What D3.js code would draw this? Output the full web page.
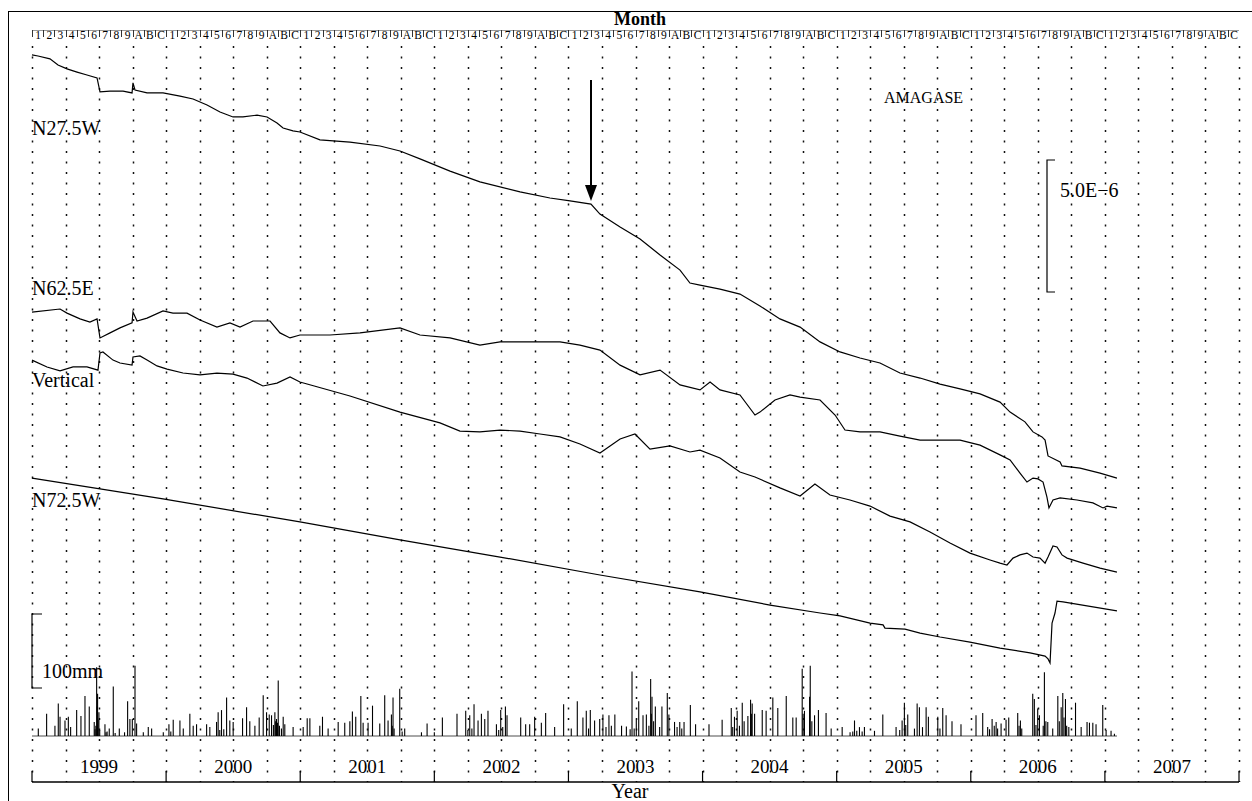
<!DOCTYPE html>
<html><head><meta charset="utf-8">
<script src="https://cdn.jsdelivr.net/npm/d3@7"></script>
<style>body{margin:0;background:#fff}svg{display:block}text{font-family:"Liberation Serif","Times New Roman",serif;fill:#000}</style>
</head><body><svg id="c" width="1252" height="801"></svg>
<script>
// ---- data (time = years since 1999-01-01, strain in units of 1e-7) ----
const years = ["1999","2000","2001","2002","2003","2004","2005","2006","2007"];
const monthLabels = ["1","2","3","4","5","6","7","8","9","A","B","C"];
const seriesNames = ["N27.5W","N62.5E","Vertical","N72.5W"];

const n275W = [[0,279.2],[0.045,278.8],[0.134,277.7],[0.194,275.4],[0.261,273.9],[0.336,272.7],[0.41,271.6],[0.485,270.5],[0.507,265.2],[0.582,265.5],[0.679,265.5],[0.746,264.8],[0.753,268.6],[0.768,265.9],[0.858,264.8],[0.977,264.8],[1.104,263.6],[1.201,262.5],[1.305,260.2],[1.402,257.6],[1.499,255.7],[1.573,255.7],[1.678,256.4],[1.753,255.7],[1.827,253.4],[1.872,251.5],[1.946,250.4],[1.998,250.0],[2.147,247.0],[2.371,246.2],[2.595,244.7],[2.744,242.8],[2.893,239.8],[3.117,235.2],[3.34,231.1],[3.639,227.3],[3.862,225.0],[4.012,223.9],[4.168,222.7],[4.235,218.9],[4.385,214.0],[4.534,209.5],[4.683,203.4],[4.832,197.7],[4.906,192.8],[4.981,192.0],[5.13,190.5],[5.279,188.6],[5.428,184.1],[5.577,179.2],[5.727,176.1],[5.876,170.5],[6.025,166.7],[6.174,164.4],[6.323,162.5],[6.472,158.7],[6.622,156.8],[6.771,154.5],[6.92,152.7],[7.069,150.8],[7.218,147.7],[7.293,143.9],[7.404,140.2],[7.464,136.4],[7.531,134.5],[7.554,133.3],[7.576,127.3],[7.666,125.0],[7.68,123.5],[7.815,122.7],[7.964,120.8],[8.09,118.9]];

const n625E = [[0,181.8],[0.209,182.95],[0.261,181.4],[0.358,179.2],[0.432,178.0],[0.485,179.2],[0.507,172.0],[0.582,173.9],[0.656,175.8],[0.746,177.7],[0.753,181.8],[0.783,178.4],[0.858,179.5],[0.977,182.2],[1.051,181.4],[1.156,181.4],[1.253,178.8],[1.379,176.1],[1.476,177.7],[1.551,176.1],[1.648,178.4],[1.775,178.4],[1.849,173.9],[1.924,172.0],[1.998,173.1],[2.222,173.1],[2.446,173.9],[2.744,175.8],[2.893,173.1],[3.117,172.0],[3.34,169.3],[3.49,170.5],[3.713,170.5],[3.937,170.5],[4.086,169.3],[4.235,167.4],[4.385,161.7],[4.534,158.0],[4.683,159.8],[4.832,154.2],[4.981,152.3],[5.056,155.3],[5.13,152.3],[5.279,150.4],[5.391,142.8],[5.428,143.9],[5.54,148.5],[5.652,150.4],[5.727,149.6],[5.876,148.5],[5.988,142.8],[6.062,137.1],[6.174,136.4],[6.323,136.4],[6.472,134.8],[6.622,133.3],[6.771,133.3],[6.92,133.3],[7.069,131.4],[7.218,127.7],[7.293,125.8],[7.367,120.8],[7.419,117.4],[7.464,118.9],[7.501,118.6],[7.539,117.4],[7.568,111.7],[7.583,107.6],[7.613,110.6],[7.666,111.4],[7.792,110.6],[7.911,109.5],[7.986,107.6],[8.016,108.3],[8.09,107.6]];

const vertical = [[0,163.6],[0.112,161.0],[0.209,159.5],[0.306,161.0],[0.41,161.0],[0.492,159.8],[0.507,166.3],[0.529,166.7],[0.604,163.6],[0.656,162.5],[0.746,161.7],[0.753,164.8],[0.805,165.2],[0.858,163.6],[0.932,161.4],[1.007,160.2],[1.126,158.7],[1.253,158.0],[1.379,158.7],[1.499,158.3],[1.603,156.8],[1.722,153.8],[1.827,154.9],[1.924,157.2],[1.998,155.3],[2.371,150.0],[2.744,143.9],[3.042,139.8],[3.191,136.7],[3.34,136.4],[3.49,137.1],[3.639,136.7],[3.788,135.6],[3.937,134.5],[4.086,131.8],[4.235,128.4],[4.385,133.7],[4.496,135.6],[4.608,129.9],[4.757,131.1],[4.906,128.8],[4.981,129.5],[5.13,126.5],[5.279,121.2],[5.391,119.3],[5.577,115.2],[5.727,112.1],[5.838,116.7],[5.95,112.5],[6.099,110.6],[6.249,108.3],[6.398,104.5],[6.547,102.3],[6.696,98.5],[6.845,94.3],[6.994,90.5],[7.144,87.9],[7.218,86.7],[7.27,86.0],[7.315,88.6],[7.367,89.8],[7.419,90.5],[7.464,89.0],[7.516,88.6],[7.554,86.7],[7.576,89.0],[7.613,93.2],[7.643,92.8],[7.68,89.8],[7.718,88.6],[7.837,86.7],[7.964,84.8],[8.09,83.3]];

const n725W = [[0,118.9],[0.507,114.8],[0.977,111.0],[1.998,102.3],[2.744,95.5],[3.49,89.0],[4.235,82.2],[4.981,75.8],[5.503,70.8],[5.876,67.8],[6.025,66.7],[6.249,64.0],[6.346,63.3],[6.36,62.1],[6.51,61.7],[6.622,60.2],[6.771,58.7],[6.994,56.8],[7.218,54.5],[7.442,52.7],[7.554,51.5],[7.576,50.4],[7.591,48.9],[7.606,64.0],[7.628,67.8],[7.643,72.3],[7.688,72.0],[8.09,68.6]];

// daily rainfall (mm): [years since 1999, mm]
const rain = [[0.047,10],[0.109,30],[0.171,14],[0.196,44],[0.209,26],[0.246,21],[0.271,26],[0.288,12],[0.333,35],[0.365,27],[0.395,54],[0.427,40],[0.464,19],[0.470,9],[0.476,14],[0.482,93],[0.486,40],[0.489,57],[0.493,22],[0.499,32],[0.505,8],[0.544,16],[0.552,5],[0.560,6],[0.576,10],[0.606,67],[0.620,4],[0.651,10],[0.690,5],[0.713,47],[0.730,23],[0.748,23],[0.768,95],[0.780,17],[0.830,5],[0.867,12],[0.892,10],[0.979,5],[1.021,16],[1.035,6],[1.053,22],[1.103,21],[1.128,10],[1.177,30],[1.202,14],[1.227,16],[1.302,16],[1.326,12],[1.376,19],[1.388,32],[1.400,8],[1.413,35],[1.430,9],[1.451,52],[1.475,21],[1.500,19],[1.570,24],[1.600,39],[1.624,20],[1.662,14],[1.694,25],[1.724,55],[1.749,32],[1.769,29],[1.786,28],[1.800,15],[1.811,32],[1.817,20],[1.823,23],[1.830,18],[1.836,75],[1.845,14],[1.860,10],[1.873,26],[1.885,16],[1.947,12],[2.022,12],[2.052,24],[2.072,24],[2.146,14],[2.166,26],[2.208,10],[2.283,19],[2.332,18],[2.370,20],[2.389,33],[2.414,26],[2.452,54],[2.469,18],[2.506,18],[2.539,41],[2.593,17],[2.630,55],[2.655,21],[2.680,29],[2.686,14],[2.692,52],[2.700,10],[2.742,64],[2.760,6],[2.779,10],
[2.904,5],[2.946,17],[3.000,5],[3.060,25],[3.169,30],[3.234,34],[3.250,8],[3.264,28],[3.280,10],[3.296,43],[3.326,21],[3.351,30],[3.376,23],[3.400,34],[3.463,16],[3.480,8],[3.495,35],[3.510,12],[3.530,40],[3.542,28],[3.644,25],[3.681,16],[3.711,16],[3.748,26],[3.798,18],[3.830,31],[3.897,12],[3.964,43],[4.021,10],[4.066,47],[4.108,25],[4.133,34],[4.150,10],[4.163,35],[4.195,21],[4.233,23],[4.257,29],[4.280,12],[4.302,28],[4.320,14],[4.346,29],[4.396,14],[4.432,13],[4.460,9],[4.474,87],[4.490,10],[4.506,22],[4.524,47],[4.556,28],[4.581,29],[4.600,14],[4.613,77],[4.618,30],[4.623,53],[4.635,20],[4.648,40],[4.680,12],[4.697,40],[4.737,58],[4.749,29],[4.791,19],[4.810,12],[4.830,19],[4.845,10],[4.862,19],[4.909,42],[4.948,16],[5.048,16],[5.146,22],[5.214,38],[5.225,12],[5.238,26],[5.258,34],[5.275,14],[5.296,45],[5.310,20],[5.338,27],[5.358,49],[5.364,30],[5.370,44],[5.388,30],[5.445,35],[5.474,34],[5.524,52],[5.561,38],[5.624,54],[5.673,25],[5.698,25],[5.743,91],[5.750,30],[5.760,34],[5.798,53],[5.803,95],[5.815,20],[5.835,28],[5.864,35],[5.921,31],[5.959,10],
[6.041,12],[6.100,5],[6.120,6],[6.133,21],[6.150,7],[6.170,12],[6.190,6],[6.207,12],[6.282,7],[6.344,29],[6.443,12],[6.470,8],[6.488,21],[6.505,45],[6.515,15],[6.530,29],[6.580,10],[6.600,44],[6.617,39],[6.640,12],[6.667,39],[6.684,26],[6.754,26],[6.770,10],[6.791,38],[6.816,28],[6.860,20],[6.927,16],[7.039,28],[7.089,31],[7.126,12],[7.140,9],[7.159,23],[7.175,14],[7.189,19],[7.200,10],[7.226,17],[7.263,22],[7.283,25],[7.350,31],[7.360,14],[7.370,21],[7.380,10],[7.462,57],[7.474,50],[7.486,15],[7.499,37],[7.512,28],[7.540,14],[7.549,86],[7.560,20],[7.574,19],[7.611,10],[7.649,54],[7.660,20],[7.674,39],[7.686,58],[7.695,25],[7.706,50],[7.715,14],[7.731,12],[7.781,45],[7.823,12],[7.867,19],[7.885,18],[7.910,18],[7.934,16],[7.984,42],[8.009,8],[8.046,7],[8.071,3]];
const rainEnd = 8.09;
const scaleStrain = 50;   // 5.0E-6 in units of 1e-7
const scaleRain = 100;    // mm

// ---- drawing ----
const svg = d3.select("#c");
const x = d3.scaleLinear().domain([0, 9]).range([32, 1239]);
const y = d3.scaleLinear().domain([0, 300]).range([792, 0]);
const yr = d3.scaleLinear().domain([0, 100]).range([736, 662]);

// frame
svg.append("line").attr("x1",8.5).attr("x2",8.5).attr("y1",11).attr("y2",801).attr("stroke","#000").attr("stroke-width",1);
svg.append("line").attr("x1",8).attr("x2",1252).attr("y1",11.5).attr("y2",11.5).attr("stroke","#000").attr("stroke-width",1);

// month row
const months = d3.range(108);
svg.append("line").attr("x1",x(0)).attr("x2",x(9)).attr("y1",30.5).attr("y2",30.5).attr("stroke","#999");
svg.selectAll(".msep").data(months).join("line").attr("class","msep")
  .attr("x1",d=>Math.round(x(d/12))+0.5).attr("x2",d=>Math.round(x(d/12))+0.5)
  .attr("y1",30).attr("y2",37).attr("stroke","#333");
svg.selectAll(".mlab").data(months).join("text").attr("class","mlab")
  .attr("x",d=>x((d+0.55)/12)).attr("y",39).attr("text-anchor","middle")
  .style("font-size","11.5px").text(d=>monthLabels[d%12]);
svg.append("text").attr("x",640).attr("y",25).attr("text-anchor","middle")
  .style("font-size","18px").style("font-weight","bold").text("Month");

// quarterly dotted grid
const quarters = d3.range(0, 109, 3);
svg.selectAll(".grid").data(quarters).join("line").attr("class","grid")
  .attr("x1",d=>Math.round(x(d/12))+0.5).attr("x2",d=>Math.round(x(d/12))+0.5)
  .attr("y1",46).attr("y2",782).attr("stroke","#111").attr("stroke-width",1.5)
  .attr("stroke-dasharray","2,8.5");

// bottom axis
svg.append("line").attr("x1",x(0)).attr("x2",x(9)).attr("y1",782).attr("y2",782).attr("stroke","#000").attr("stroke-width",1.5);
svg.selectAll(".ytick").data(d3.range(10)).join("line").attr("class","ytick")
  .attr("x1",d=>x(d)).attr("x2",d=>x(d)).attr("y1",771).attr("y2",782).attr("stroke","#000").attr("stroke-width",1.2);
svg.selectAll(".ylab").data(years).join("text").attr("class","ylab")
  .attr("x",(d,i)=>x(i+0.5)).attr("y",773).attr("text-anchor","middle")
  .style("font-size","19px").text(d=>d);
svg.append("text").attr("x",630).attr("y",798).attr("text-anchor","middle").style("font-size","20px").text("Year");

// rain
svg.append("line").attr("x1",x(0)).attr("x2",x(rainEnd)).attr("y1",yr(0)).attr("y2",yr(0)).attr("stroke","#888").attr("stroke-width",1.5);
svg.selectAll(".rain").data(rain).join("line").attr("class","rain")
  .attr("x1",d=>x(d[0])).attr("x2",d=>x(d[0])).attr("y1",yr(0)).attr("y2",d=>yr(d[1]))
  .attr("stroke","#000").attr("stroke-width",1.1);
// 100mm bracket
svg.append("path").attr("d",`M${x(0)+10},${yr(scaleRain)-48}H${x(0)}V${yr(0)-48}H${x(0)+10}`).attr("fill","none").attr("stroke","#000").attr("stroke-width",1.2);
svg.append("text").attr("x",42).attr("y",678).style("font-size","20px").text("100mm");

// strain curves
const line = d3.line().x(d=>x(d[0])).y(d=>y(d[1]));
[n275W, n625E, vertical, n725W].forEach(s=>{
  svg.append("path").datum(s).attr("d",line).attr("fill","none").attr("stroke","#000").attr("stroke-width",1.2);
});
const labelPos = [[32,135],[32,295],[32,387],[32,507]];
seriesNames.forEach((n,i)=>svg.append("text").attr("x",labelPos[i][0]).attr("y",labelPos[i][1]).style("font-size","20px").text(n));

// strain scale bar
const sbTop = 160;
svg.append("path").attr("d",`M1055,${sbTop}H1047V${sbTop + (y(0)-y(scaleStrain))}H1055`).attr("fill","none").attr("stroke","#000").attr("stroke-width",1.2);
svg.append("text").attr("x",1060).attr("y",197).style("font-size","20px").text("5.0E\u22126");

// station
svg.append("text").attr("x",884).attr("y",103).style("font-size","16px").text("AMAGASE");

// arrow
svg.append("line").attr("x1",591).attr("x2",591).attr("y1",80).attr("y2",188).attr("stroke","#000").attr("stroke-width",2);
svg.append("path").attr("d","M585,185L597,185L591,201Z").attr("fill","#000");
</script></body></html>
